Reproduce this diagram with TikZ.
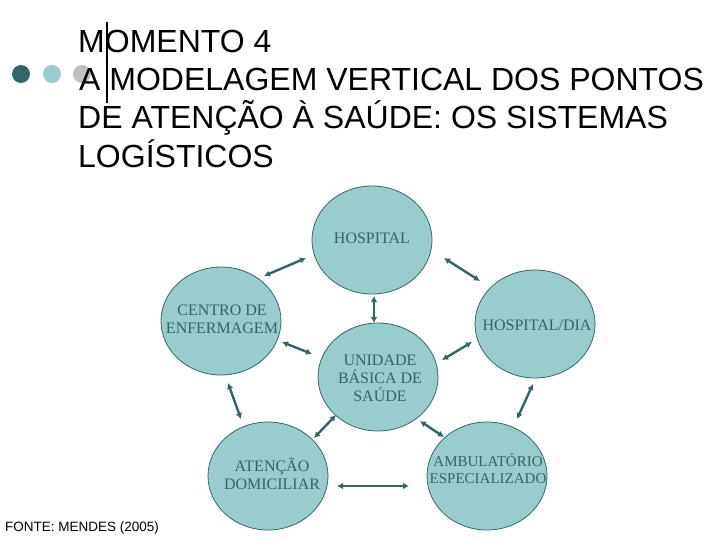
\documentclass[tikz,border=0pt]{standalone}
\usepackage{fontspec}
\setmainfont{Liberation Serif}
\newfontfamily\arialf{Liberation Sans}
\usetikzlibrary{shapes.geometric,arrows.meta}
\definecolor{tealdark}{HTML}{336666}
\definecolor{teallight}{HTML}{99CCCC}
\definecolor{dotgrey}{HTML}{C0C0C0}
\tikzset{
  bubble/.style={ellipse, draw=tealdark, line width=0.8pt, fill=teallight,
    minimum width=120pt, minimum height=108pt, inner sep=0pt},
  bubbletext/.style={inner sep=0pt, text=tealdark, align=center,
    font=\fontsize{16}{18}\selectfont},
  link/.style={draw=tealdark, line width=2.4pt, {Latex[length=6pt,width=6.5pt]}-{Latex[length=6pt,width=6.5pt]}},
  titletext/.style={anchor=base west, inner sep=0pt, font=\arialf\fontsize{32}{38}\selectfont},
  dotmark/.style={circle, inner sep=0pt, minimum size=18pt}
}
\begin{document}
\begin{tikzpicture}[x=1pt,y=-1pt]
\useasboundingbox[fill=white] (0,0) rectangle (720,540);
% dots
\node[dotmark, fill=tealdark] (d1) at (21,74) {};
\node[dotmark, fill=teallight] (d2) at (52,74) {};
\node[dotmark, fill=dotgrey] (d3) at (82,74) {};
% title
\node[titletext] (t1) at (78,53) {MOMENTO 4};
\node[titletext] (t2) at (79,91) {A MODELAGEM VERTICAL DOS PONTOS};
\node[titletext] (t3) at (78,129) {DE ATENÇÃO À SAÚDE: OS SISTEMAS};
\node[titletext] (t4) at (78,168) {LOGÍSTICOS};
\coordinate (vt) at (107,22);
\coordinate (vb) at (107,103);
\draw[line width=2pt] (vt) -- (vb);
% bubbles
\node[bubble] (hosp) at (372,240) {};
\node[bubble] (cent) at (221,321) {};
\node[bubble] (hdia) at (535,324) {};
\node[bubble] (ubs) at (378,377) {};
\node[bubble] (aten) at (268,476) {};
\node[bubble] (ambu) at (487,476) {};
\node[bubbletext] (hospt) at (372,238) {HOSPITAL};
\node[bubbletext] (centt) at (222,319) {CENTRO DE\\ENFERMAGEM};
\node[bubbletext] (hdiat) at (537,325) {HOSPITAL/DIA};
\node[bubbletext] (ubst) at (380,378) {UNIDADE\\BÁSICA DE\\SAÚDE};
\node[bubbletext] (atent) at (272,474) {ATENÇÃO\\DOMICILIAR};
\node[bubbletext, font=\fontsize{15}{17}\selectfont] (ambut) at (488,469) {AMBULATÓRIO\\ESPECIALIZADO};
% arrow end points
\coordinate (a1) at (264,276); \coordinate (b1) at (306,258);
\coordinate (a2) at (444,258); \coordinate (b2) at (480,281);
\coordinate (a3) at (374,296); \coordinate (b3) at (374,323);
\coordinate (a4) at (282,342); \coordinate (b4) at (312,354);
\coordinate (a5) at (472,342); \coordinate (b5) at (442,360);
\coordinate (a6) at (228,383); \coordinate (b6) at (241,419);
\coordinate (a7) at (336,415); \coordinate (b7) at (314,438);
\coordinate (a8) at (420,421); \coordinate (b8) at (444,437);
\coordinate (a9) at (533,384); \coordinate (b9) at (517,419);
\coordinate (a10) at (337,486); \coordinate (b10) at (409,486);
\foreach \i in {1,...,10} {\draw[link] (a\i) -- (b\i);}
% source
\node[anchor=base west, inner sep=0pt, font=\arialf\fontsize{13.5}{16}\selectfont] (src) at (5,531) {FONTE: MENDES (2005)};
\end{tikzpicture}
\end{document}
